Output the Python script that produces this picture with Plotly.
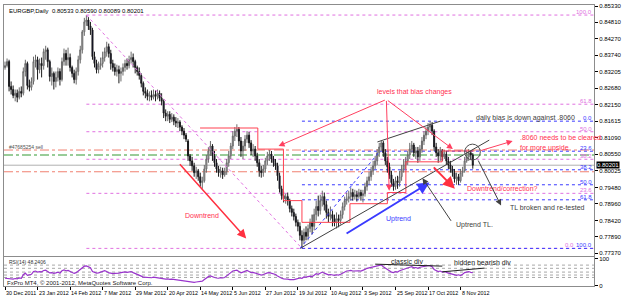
import plotly.graph_objects as go

# ---------------- data ----------------
date_labels = ["30 Dec 2011", "23 Jan 2012", "14 Feb 2012", "7 Mar 2012", "29 Mar 2012",
               "20 Apr 2012", "14 May 2012", "5 Jun 2012", "27 Jun 2012", "19 Jul 2012",
               "10 Aug 2012", "3 Sep 2012", "25 Sep 2012", "17 Oct 2012", "8 Nov 2012"]
date_ticks = [0, 16, 32, 48, 64, 80, 96, 112, 128, 144, 160, 176, 192, 208, 224]

price_ticks = [0.85330, 0.84810, 0.84270, 0.83740, 0.83205, 0.82680, 0.82150, 0.81615,
               0.81090, 0.80550, 0.80025, 0.79480, 0.78960, 0.78420, 0.77890, 0.77370]
last_price = 0.80201

opens = [
    .8335, .8341, .8354, .8274, .8264, .8245, .8252, .8239, .8258, .8252,
    .8322, .8348, .8277, .8271, .8290, .8354, .8360, .8328, .8348, .8341,
    .8386, .8392, .8354, .8306, .8316, .8290, .8303, .8322, .8296, .8354,
    .8380, .8360, .8367, .8335, .8316, .8296, .8322, .8360, .8392, .8450,
    .8482, .8488, .8469, .8456, .8370, .8348, .8328, .8341, .8348, .8367,
    .8386, .8402, .8380, .8348, .8335, .8322, .8328, .8316, .8322, .8335,
    .8348, .8341, .8360, .8367, .8354, .8335, .8322, .8309, .8284, .8258,
    .8252, .8242, .8245, .8239, .8248, .8242, .8252, .8236, .8226, .8188,
    .8178, .8184, .8168, .8175, .8162, .8156, .8159, .8143, .8130, .8117,
    .8098, .8050, .8034, .8018, .7996, .8002, .7983, .7964, .7970, .8008,
    .8040, .8066, .8082, .8050, .8028, .8008, .7996, .8002, .7989, .7999,
    .8028, .8050, .8082, .8114, .8130, .8136, .8098, .8066, .8082, .8104,
    .8117, .8092, .8066, .8072, .8050, .8028, .8002, .7996, .8008, .8034,
    .8050, .8056, .8040, .8028, .8018, .7986, .7944, .7922, .7912, .7919,
    .7906, .7880, .7868, .7855, .7836, .7823, .7794, .7778, .7804, .7791,
    .7816, .7836, .7823, .7861, .7887, .7874, .7906, .7919, .7893, .7868,
    .7855, .7861, .7848, .7836, .7848, .7842, .7861, .7887, .7906, .7912,
    .7919, .7932, .7919, .7925, .7919, .7932, .7922, .7928, .7951, .7970,
    .7983, .8002, .8018, .8034, .8060, .8079, .8092, .8060, .8034, .8015,
    .7989, .7964, .7951, .7970, .7964, .7983, .8008, .8021, .8034, .8053,
    .8072, .8085, .8060, .8066, .8047, .8072, .8098, .8117, .8130, .8143,
    .8149, .8130, .8079, .8060, .8050, .8066, .8047, .8056, .8034, .8021,
    .8008, .7996, .7976, .7983, .7970, .7996, .8002, .8034, .8047, .8060,
    .80533]

highs = [
    .8354, .8364, .8360, .8290, .8277, .8264, .8264, .8271, .8274, .8335,
    .8360, .8354, .8296, .8303, .8370, .8376, .8370, .8364, .8367, .8396,
    .8405, .8399, .8360, .8335, .8322, .8322, .8335, .8332, .8367, .8396,
    .8392, .8399, .8380, .8341, .8328, .8335, .8373, .8405, .8456, .8495,
    .8504, .8498, .8482, .8463, .8386, .8360, .8354, .8367, .8386, .8399,
    .8418, .8412, .8392, .8360, .8348, .8344, .8341, .8335, .8348, .8360,
    .8364, .8373, .8386, .8380, .8360, .8341, .8335, .8316, .8290, .8271,
    .8264, .8258, .8261, .8264, .8261, .8264, .8261, .8252, .8232, .8200,
    .8194, .8194, .8188, .8184, .8175, .8172, .8165, .8149, .8140, .8124,
    .8104, .8056, .8047, .8028, .8015, .8008, .7996, .7983, .8021, .8053,
    .8079, .8098, .8088, .8066, .8040, .8018, .8015, .8012, .8012, .8040,
    .8066, .8092, .8130, .8143, .8152, .8143, .8111, .8098, .8117, .8130,
    .8127, .8101, .8088, .8082, .8060, .8040, .8018, .8021, .8044, .8063,
    .8069, .8066, .8050, .8040, .8028, .7996, .7954, .7935, .7928, .7932,
    .7912, .7890, .7880, .7864, .7845, .7836, .7810, .7816, .7823, .7829,
    .7848, .7861, .7880, .7906, .7922, .7925, .7938, .7932, .7906, .7880,
    .7887, .7874, .7861, .7868, .7861, .7874, .7900, .7919, .7932, .7938,
    .7948, .7944, .7941, .7938, .7944, .7941, .7941, .7964, .7983, .7999,
    .8015, .8034, .8050, .8072, .8092, .8098, .8098, .8072, .8047, .8028,
    .8002, .7976, .7983, .7986, .8002, .8021, .8040, .8047, .8066, .8092,
    .8098, .8092, .8079, .8079, .8085, .8111, .8130, .8143, .8156, .8162,
    .8159, .8136, .8092, .8072, .8079, .8072, .8069, .8066, .8047, .8034,
    .8018, .8008, .7996, .7992, .8008, .8015, .8047, .8066, .8072, .8066,
    .80590]

lows = [
    .8328, .8335, .8258, .8248, .8236, .8226, .8223, .8232, .8239, .8245,
    .8306, .8264, .8258, .8261, .8280, .8335, .8296, .8316, .8303, .8328,
    .8360, .8335, .8290, .8277, .8264, .8271, .8290, .8277, .8290, .8341,
    .8341, .8341, .8322, .8303, .8284, .8280, .8309, .8348, .8380, .8437,
    .8469, .8456, .8440, .8360, .8335, .8316, .8316, .8328, .8335, .8354,
    .8370, .8367, .8328, .8322, .8309, .8306, .8284, .8290, .8309, .8322,
    .8328, .8332, .8348, .8335, .8316, .8309, .8296, .8271, .8245, .8236,
    .8229, .8226, .8229, .8232, .8226, .8232, .8226, .8213, .8172, .8162,
    .8162, .8156, .8159, .8149, .8143, .8140, .8130, .8117, .8104, .8095,
    .8034, .8018, .8002, .7983, .7976, .7970, .7951, .7944, .7964, .7996,
    .8028, .8050, .8034, .8015, .7996, .7983, .7980, .7976, .7983, .7989,
    .8015, .8040, .8072, .8098, .8111, .8082, .8047, .8040, .8066, .8092,
    .8076, .8053, .8047, .8034, .8015, .7983, .7980, .7983, .7996, .8021,
    .8034, .8028, .8015, .8005, .7970, .7932, .7909, .7900, .7896, .7890,
    .7868, .7855, .7842, .7823, .7807, .7778, .7752, .7765, .7778, .7778,
    .7804, .7797, .7810, .7842, .7855, .7861, .7887, .7874, .7848, .7836,
    .7842, .7823, .7823, .7816, .7820, .7829, .7848, .7874, .7893, .7900,
    .7906, .7906, .7909, .7903, .7912, .7906, .7900, .7919, .7938, .7957,
    .7970, .7989, .8008, .8021, .8047, .8066, .8047, .8021, .7996, .7976,
    .7951, .7938, .7941, .7944, .7951, .7970, .7996, .8008, .8021, .8040,
    .8060, .8047, .8040, .8028, .8034, .8060, .8085, .8104, .8117, .8130,
    .8117, .8066, .8047, .8028, .8034, .8034, .8040, .8021, .8008, .7996,
    .7983, .7964, .7957, .7957, .7964, .7983, .7996, .8028, .8034, .8040,
    .80089]

closes = [
    .8341, .8354, .8274, .8264, .8245, .8252, .8239, .8258, .8252, .8322,
    .8348, .8277, .8271, .8290, .8354, .8360, .8328, .8348, .8341, .8386,
    .8392, .8354, .8306, .8316, .8290, .8303, .8322, .8296, .8354, .8380,
    .8360, .8367, .8335, .8316, .8296, .8322, .8360, .8392, .8450, .8482,
    .8488, .8469, .8456, .8370, .8348, .8328, .8341, .8348, .8367, .8386,
    .8402, .8380, .8348, .8335, .8322, .8328, .8316, .8322, .8335, .8348,
    .8341, .8360, .8367, .8354, .8335, .8322, .8309, .8284, .8258, .8252,
    .8242, .8245, .8239, .8248, .8242, .8252, .8236, .8226, .8188, .8178,
    .8184, .8168, .8175, .8162, .8156, .8159, .8143, .8130, .8117, .8104,
    .8050, .8034, .8018, .7996, .8002, .7983, .7964, .7970, .8008, .8040,
    .8066, .8082, .8050, .8028, .8008, .7996, .8002, .7989, .7999, .8028,
    .8050, .8082, .8114, .8130, .8136, .8098, .8066, .8082, .8104, .8117,
    .8092, .8066, .8072, .8050, .8028, .8002, .7996, .8008, .8034, .8050,
    .8056, .8040, .8028, .8018, .7986, .7944, .7922, .7912, .7919, .7906,
    .7880, .7868, .7855, .7836, .7823, .7794, .7778, .7804, .7791, .7816,
    .7836, .7823, .7861, .7887, .7874, .7906, .7919, .7893, .7868, .7855,
    .7861, .7848, .7836, .7848, .7842, .7861, .7887, .7906, .7912, .7919,
    .7932, .7919, .7925, .7919, .7932, .7922, .7928, .7951, .7970, .7983,
    .8002, .8018, .8034, .8060, .8079, .8092, .8060, .8034, .8015, .7989,
    .7964, .7951, .7970, .7964, .7983, .8008, .8021, .8034, .8053, .8072,
    .8085, .8060, .8066, .8047, .8072, .8098, .8117, .8130, .8143, .8149,
    .8130, .8079, .8060, .8050, .8066, .8047, .8056, .8034, .8021, .8008,
    .7996, .7976, .7983, .7970, .7996, .8002, .8034, .8047, .8060, .8053,
    .80201]

rsi = [
    27, 26, 24, 25, 24, 26, 25, 28, 27, 40, 46, 38,
    39, 42, 52, 54, 50, 52, 51, 56, 57, 52, 47,
    48, 45, 47, 50, 46, 55, 58, 55, 56, 52, 48, 45,
    48, 54, 60, 68, 72, 73, 70, 66, 52,
    48, 46, 47, 50, 53, 55, 52, 47, 46, 44, 45, 45, 46, 48, 50, 51, 49, 50, 52,
    48, 45, 43, 40, 35, 31, 30, 29, 30, 29, 31, 30, 29, 28, 25, 24, 24,
    25, 23, 24, 23, 22, 21, 20, 18, 17, 15, 14, 13, 14, 12, 13, 14, 13, 16, 22, 28,
    33, 36, 32, 30, 28, 27, 29, 28, 30, 37, 42, 48, 54,
    56, 57, 52, 47, 50, 53, 56, 52, 48, 49, 46, 44, 40, 39, 41,
    45, 47, 48, 45, 43, 41, 35, 30, 27, 25, 25, 24, 22, 21, 22, 24, 26,
    28, 27, 32, 31, 33, 35, 33, 38, 44, 42, 47, 50, 46,
    42, 40, 41, 40, 38, 40, 39, 42, 47, 52, 54, 55, 56, 54, 55, 54, 55, 54, 56, 60, 64,
    66, 68, 70, 72, 74, 76, 77, 70, 64, 60, 55, 50, 48, 52, 50, 55,
    58, 60, 62, 66, 68, 70, 66, 67, 64, 68, 70, 72, 73, 74, 74, 70, 60,
    55, 52, 54, 50, 52, 48, 46, 44, 42, 40, 38, 40, 37, 42, 48, 50, 52, 49, 48]
rsi_levels = [76, 64, 50, 39, 30]

fib_ratios = [0.0, 23.6, 38.2, 50.0, 61.8, 100.0]
pink_fib_start, pink_fib_0, pink_fib_100 = 40, 0.7752, 0.8504
blue_fib_start, blue_fib_0, blue_fib_100 = 146, 0.8162, 0.7752
order_sl, order_entry, order_tp = 0.8069, 0.8053, 0.7999

# hand-drawn objects (bar index, price)
stair_x = [95.9, 124.3, 124.3, 136.9, 136.9, 146.0, 146.0, 169.6, 169.6, 188.0, 188.0, 197.1, 197.1, 214.9, 214.9, 230.8]
stair_y = [0.8140, 0.8140, 0.8072, 0.8072, 0.7906, 0.7906, 0.7836, 0.7836, 0.7896, 0.7896, 0.7932, 0.7932, 0.8031, 0.8031, 0.8066, 0.8066]

# ---------------- figure ----------------
bars = list(range(len(closes)))
X0, X1 = -0.5, 289.6
FONT = "Liberation Sans, Arial, sans-serif"
PINK = "#e070e0"
BLUE = "#3a3aff"
RED = "#ff3050"

fig = go.Figure()
fig.add_trace(go.Candlestick(
    x=bars, open=opens, high=highs, low=lows, close=closes,
    xaxis="x", yaxis="y", whiskerwidth=0,
    increasing=dict(line=dict(color="#6a6a6a", width=1), fillcolor="#c4c4c4"),
    decreasing=dict(line=dict(color="#1a1a1a", width=1), fillcolor="#000040"),
    showlegend=False, hoverinfo="skip"))

fig.add_trace(go.Scatter(x=stair_x, y=stair_y, mode="lines", xaxis="x", yaxis="y",
                         line=dict(color="#ff4050", width=1), showlegend=False, hoverinfo="skip"))

fig.add_trace(go.Scatter(x=bars, y=rsi, mode="lines", xaxis="x2", yaxis="y2",
                         line=dict(color="#9933cc", width=1.2), showlegend=False, hoverinfo="skip"))

shapes = []
annotations = []


def hline(y, color, dash, x0=X0, x1=X1, yref="y", xref="x", width=1):
    shapes.append(dict(type="line", xref=xref, yref=yref, x0=x0, x1=x1, y0=y, y1=y,
                       line=dict(color=color, width=width, dash=dash), layer="below"))


def seg(x0, y0, x1, y1, color, width=1, dash="solid", yref="y", xref="x"):
    shapes.append(dict(type="line", xref=xref, yref=yref, x0=x0, x1=x1, y0=y0, y1=y1,
                       line=dict(color=color, width=width, dash=dash)))


def arrow(x0, y0, x1, y1, color, width=1):
    annotations.append(dict(x=x1, y=y1, ax=x0, ay=y0, xref="x", yref="y", axref="x", ayref="y",
                            text="", showarrow=True, arrowhead=2, arrowsize=1.2,
                            arrowwidth=width, arrowcolor=color))


def label(x, y, text, color, size=7, xanchor="left", yanchor="middle", xref="x", yref="y", **kw):
    annotations.append(dict(x=x, y=y, xref=xref, yref=yref, text=text, showarrow=False,
                            xanchor=xanchor, yanchor=yanchor,
                            font=dict(family=FONT, size=size, color=color), **kw))


# order / price lines
hline(order_sl, "#f08070", "dashdot")
hline(order_tp, "#f08070", "dashdot")
hline(order_entry, "#339933", "dashdot")
hline(last_price, "#b0b0b0", "solid")
label(0.005, order_sl, "#47685254 sell", "#505050", size=5, xref="paper", yanchor="bottom", yshift=-2)

# fibonacci levels
for r in fib_ratios:
    p = pink_fib_0 + r / 100 * (pink_fib_100 - pink_fib_0)
    hline(p, PINK, "dot", x0=pink_fib_start)
    label(1, p, "%.1f" % r, PINK, size=6, xanchor="right", yanchor="bottom", xref="paper",
          yshift=-2, xshift=(-18 if r == 0 else 0))
for r in fib_ratios:
    p = blue_fib_0 + r / 100 * (blue_fib_100 - blue_fib_0)
    hline(p, BLUE, "dot", x0=blue_fib_start)
    label(1, p, "%.1f" % r, BLUE, size=6, xanchor="right", yanchor="bottom", xref="paper", yshift=-2)

# trend lines
seg(40, 0.8504, 146, 0.7752, PINK, 1, "dot")
seg(145.1, 0.7752, 238.1, 0.8101, "#404040", 1)
seg(183.1, 0.8095, 214.0, 0.8162, "#404040", 1)
seg(145.1, 0.7752, 183.6, 0.8060, BLUE, 1, "dot")

# circle
shapes.append(dict(type="circle", xref="x", yref="y", x0=226.0, x1=233.7, y0=0.8037, y1=0.8088,
                   line=dict(color="#505050", width=1)))

# arrows and notes
arrow(85.3, 0.8028, 118.6, 0.7784, "#ff3040", 1.5)
label(96.9, 0.7858, "Downtrend", RED, size=7, xanchor="center")
arrow(167.2, 0.7797, 208.7, 0.7964, BLUE, 2)
label(193.7, 0.7848, "Uptrend", BLUE, size=7, xanchor="center")
label(201.4, 0.8255, "levels that bias changes", RED, size=7, xanchor="center")
arrow(187.5, 0.8232, 134.5, 0.8082, "#ff4060", 1)
arrow(187.5, 0.8232, 188.9, 0.7938, "#ff4060", 1)
arrow(187.5, 0.8232, 220.2, 0.8072, "#ff4060", 1)
label(230.8, 0.8172, "daily bias is down against .8060", "#404040", size=7)
arrow(233.3, 0.8066, 249.6, 0.8098, "#ff4060", 1)
label(252, 0.8108, ".8060 needs to be cleared", RED, size=7)
label(252, 0.8076, "for more upside", RED, size=7)
arrow(210.1, 0.8018, 221.2, 0.7944, "#ff3040", 2)
label(226, 0.7944, "Downtrend/correction?", RED, size=7)
arrow(232.3, 0.8040, 243.9, 0.7890, "#404040", 1)
label(247.2, 0.7884, "TL broken and re-tested", "#404040", size=7)
arrow(219.8, 0.7836, 205.3, 0.7978, "#404040", 1)
label(220.7, 0.7829, "Uptrend TL.", "#404040", size=7)

# header
label(0.005, 1, "EURGBP,Daily  0.80533 0.80590 0.80089 0.80201", "#000000", size=6,
      xref="paper", yref="paper", yanchor="top", yshift=-1)
# current price box
annotations.append(dict(x=1, y=last_price, xref="paper", yref="y", text="0.80201", showarrow=False,
                        xanchor="left", yanchor="middle", bgcolor="#000000", borderpad=0, xshift=2,
                        font=dict(family=FONT, size=6, color="#ffffff")))

# RSI window
for lv in rsi_levels:
    hline(lv, "#a8a8a8", "dot", xref="x2", yref="y2")
label(0.005, 88, "RSI(14) 48.2406", "#303030", size=5, xref="paper", yref="y2")
label(0.002, 9, "FxPro MT4, \u00a9 2001-2012, MetaQuotes Software Corp.", "#202020", size=6,
      xref="paper", yref="y2")
seg(182.0, 79.6, 215.0, 72.2, "#202020", 1, yref="y2", xref="x2")
annotations.append(dict(x=189, y=90, xref="x2", yref="y2", text="classic div", showarrow=False,
                        xanchor="left", font=dict(family=FONT, size=7, color="#202020")))
seg(215.0, 51.0, 235.7, 64.8, "#202020", 1, yref="y2", xref="x2")
annotations.append(dict(x=220, y=85, xref="x2", yref="y2", text="hidden bearish div", showarrow=False,
                        xanchor="left", font=dict(family=FONT, size=7, color="#202020")))

# date labels
for t, lab in zip(date_ticks, date_labels):
    annotations.append(dict(x=t, y=0, xref="x2", yref="paper", text=lab, showarrow=False,
                            xanchor="left", yanchor="top", yshift=-2, xshift=-1,
                            font=dict(family=FONT, size=5.4, color="#000000")))

axis_common = dict(showgrid=False, zeroline=False, showline=True, mirror=True,
                   linecolor="#8c8c8c", linewidth=1)

fig.update_layout(
    width=625, height=297,
    margin=dict(l=3, r=20, t=3, b=11),
    paper_bgcolor="#ffffff", plot_bgcolor="#ffffff",
    showlegend=False,
    font=dict(family=FONT, size=6, color="#000000"),
    xaxis=dict(domain=[0, 1], range=[X0, X1], anchor="y", showticklabels=False, ticks="",
               rangeslider=dict(visible=False), **axis_common),
    yaxis=dict(domain=[0.106, 1], range=[0.77268, 0.85364], side="right", anchor="x",
               tickvals=price_ticks, ticktext=["%.5f" % v for v in price_ticks],
               tickfont=dict(family=FONT, size=6, color="#000000"),
               ticks="outside", ticklen=3, tickcolor="#000000", **axis_common),
    xaxis2=dict(domain=[0, 1], range=[X0, X1], anchor="y2", showticklabels=False,
                tickvals=date_ticks, ticks="outside", ticklen=3, tickcolor="#000000", **axis_common),
    yaxis2=dict(domain=[0, 0.1025], range=[-1.85, 105.5], side="right", anchor="x2",
                tickvals=[100, 0], ticktext=["100", "0"],
                tickfont=dict(family=FONT, size=6, color="#000000"),
                ticks="outside", ticklen=3, tickcolor="#000000", **axis_common),
    shapes=shapes,
    annotations=annotations,
)

fig.write_html("out.html")
